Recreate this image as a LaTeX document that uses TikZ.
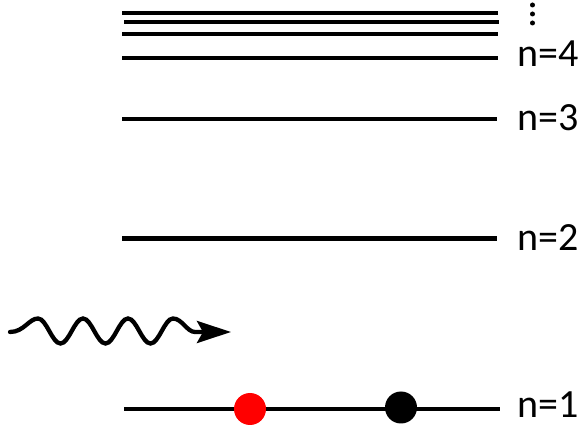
\documentclass[tikz,border=0pt]{standalone}
\usepackage{fontspec}
\setmainfont{Carlito}
\usetikzlibrary{arrows.meta}
\begin{document}
\begin{tikzpicture}[x=1pt,y=-1pt,
  level/.style={line width=4.3pt},
  lab/.style={anchor=base west,inner sep=0pt,font=\fontsize{40}{48}\selectfont},
  dotc/.style={circle,inner sep=0pt,minimum size=32pt},
  vdot/.style={circle,fill=black,inner sep=0pt,minimum size=5pt}]
\useasboundingbox (0,0) rectangle (587,430);
% levels
\coordinate (a1) at (122,12.7); \coordinate (b1) at (498,12.7);
\coordinate (a2) at (124,21.7); \coordinate (b2) at (499,21.7);
\coordinate (a3) at (122,33.7); \coordinate (b3) at (498,33.7);
\coordinate (a4) at (122,57.7); \coordinate (b4) at (498,57.7);
\coordinate (a5) at (122,118.8); \coordinate (b5) at (497,118.8);
\coordinate (a6) at (122,238.5); \coordinate (b6) at (497,238.5);
\coordinate (a7) at (124,409); \coordinate (b7) at (500,409);
\draw[level] (a1) -- (b1);
\draw[level] (a2) -- (b2);
\draw[level] (a3) -- (b3);
\draw[level] (a4) -- (b4);
\draw[level] (a5) -- (b5);
\draw[level] (a6) -- (b6);
\draw[level] (a7) -- (b7);
% labels
\node[lab] (l4) at (517,66.7) {n=4};
\node[lab] (l3) at (517,131) {n=3};
\node[lab] (l2) at (517,251) {n=2};
\node[lab] (l1) at (517,417.3) {n=1};
% vertical dots
\node[vdot] (d1) at (532.5,5) {};
\node[vdot] (d2) at (532.5,14) {};
\node[vdot] (d3) at (532.5,23) {};
% electrons
\node[dotc,fill=red] (e1) at (250,409) {};
\node[dotc,fill=black] (e2) at (401,407.5) {};
% photon
\coordinate (w0) at (10,332);
\coordinate (p1) at (38,318.5);
\coordinate (t1) at (60.5,343.5);
\coordinate (p2) at (83,318.5);
\coordinate (t2) at (105.5,343.5);
\coordinate (p3) at (128,318.5);
\coordinate (t3) at (150.5,343.5);
\coordinate (p4) at (173,318.5);
\coordinate (w5) at (195,332);
\coordinate (tip) at (231,332);
\draw[line width=4.3pt,line cap=round,-{Stealth[length=34pt,width=22pt,inset=6pt]}]
  (w0) .. controls ++(14,0) and ++(-9,0) .. (p1)
  .. controls ++(8.5,0) and ++(-8.5,0) .. (t1)
  .. controls ++(8.5,0) and ++(-8.5,0) .. (p2)
  .. controls ++(8.5,0) and ++(-8.5,0) .. (t2)
  .. controls ++(8.5,0) and ++(-8.5,0) .. (p3)
  .. controls ++(8.5,0) and ++(-8.5,0) .. (t3)
  .. controls ++(8.5,0) and ++(-8.5,0) .. (p4)
  .. controls ++(9,0) and ++(-8,0) .. (w5) -- (tip);
\end{tikzpicture}
\end{document}
